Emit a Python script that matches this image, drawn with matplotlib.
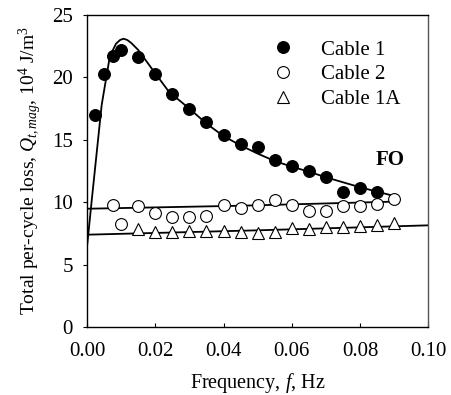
import matplotlib
matplotlib.use("Agg")
import matplotlib.pyplot as plt

plt.rcParams['font.family'] = ['Liberation Serif', 'DejaVu Serif']
plt.rcParams['mathtext.fontset'] = 'custom'
plt.rcParams['mathtext.rm'] = 'Liberation Serif'
plt.rcParams['mathtext.it'] = 'Liberation Serif:italic'

# measured data
freq_c1 = [0.0023, 0.005, 0.0075, 0.010, 0.015, 0.020, 0.025, 0.030, 0.035, 0.040,
           0.045, 0.050, 0.055, 0.060, 0.065, 0.070, 0.075, 0.080, 0.085]
loss_c1 = [17.0, 20.3, 21.7, 22.2, 21.6, 20.3, 18.7, 17.5, 16.4, 15.4,
           14.7, 14.45, 13.4, 12.9, 12.5, 12.0, 10.8, 11.15, 10.8]

freq_c2 = [0.0075, 0.010, 0.015, 0.020, 0.025, 0.030, 0.035, 0.040, 0.045, 0.050,
           0.055, 0.060, 0.065, 0.070, 0.075, 0.080, 0.085, 0.090]
loss_c2 = [9.78, 8.25, 9.7, 9.1, 8.85, 8.8, 8.9, 9.78, 9.5, 9.78,
           10.2, 9.78, 9.28, 9.3, 9.67, 9.67, 9.88, 10.22]

freq_c1a = [0.015, 0.020, 0.025, 0.030, 0.035, 0.040, 0.045, 0.050, 0.055, 0.060,
            0.065, 0.070, 0.075, 0.080, 0.085, 0.090]
loss_c1a = [7.83, 7.64, 7.6, 7.7, 7.7, 7.7, 7.64, 7.5, 7.6, 7.9,
            7.83, 8.04, 8.04, 8.1, 8.2, 8.36]

# model curves
fit_f1 = [0.0001, 0.0014, 0.0043, 0.0067, 0.0085, 0.0097, 0.0107, 0.0118, 0.013, 0.015,
          0.019, 0.024, 0.030, 0.035, 0.040, 0.045, 0.050, 0.055, 0.060, 0.065,
          0.070, 0.075, 0.080, 0.085, 0.090]
fit_q1 = [6.7, 10.2, 17.8, 21.7, 22.7, 23.0, 23.1, 23.0, 22.75, 22.2,
          20.7, 18.85, 17.5, 16.3, 15.3, 14.55, 13.9, 13.3, 12.85, 12.45,
          12.0, 11.6, 11.2, 10.85, 10.5]
fit_f2 = [0.0, 0.045, 0.090]
fit_q2 = [9.48, 9.72, 10.05]
fit_f1a = [0.0, 0.05, 0.10]
fit_q1a = [7.4, 7.75, 8.15]

fig = plt.figure(figsize=(4.52, 3.95), dpi=100)
ax = fig.add_axes([0.1925, 0.172, 0.755, 0.79])

ax.plot(fit_f1, fit_q1, color='black', lw=1.3)
ax.plot(fit_f2, fit_q2, color='black', lw=1.3)
ax.plot(fit_f1a, fit_q1a, color='black', lw=1.3)

ax.plot(freq_c1, loss_c1, 'o', ms=8.5, mfc='black', mec='black', mew=0.8,
        label='Cable 1')
ax.plot(freq_c2, loss_c2, 'o', ms=8.5, mfc='white', mec='black', mew=0.8,
        label='Cable 2')
ax.plot(freq_c1a, loss_c1a, '^', ms=9, mfc='white', mec='black', mew=0.8,
        label='Cable 1A')

ax.text(0.0889, 13.4, 'FO', fontsize=15, fontweight='bold', ha='center', va='center')

ax.set_xlim(0, 0.1)
ax.set_ylim(0, 25)
ax.set_xticks([0.0, 0.02, 0.04, 0.06, 0.08, 0.10])
ax.set_xticklabels(['0.00', '0.02', '0.04', '0.06', '0.08', '0.10'])
ax.set_yticks([0, 5, 10, 15, 20, 25])
ax.tick_params(axis='x', direction='in', length=3, pad=11, labelsize=15)
ax.tick_params(axis='y', direction='out', length=3, pad=7, labelsize=15)

ax.set_xlabel('Frequency, $f$, Hz', fontsize=14.5, labelpad=7)
ax.set_ylabel('Total per-cycle loss, $Q_{t,mag}$, 10$^4$ J/m$^3$', fontsize=14, labelpad=6)

for s in ax.spines.values():
    s.set_linewidth(1.0)
ax.spines['right'].set_color('#555555')

ax.legend(loc='upper right', bbox_to_anchor=(0.955, 0.96), frameon=False, fontsize=15,
          handletextpad=1.2, labelspacing=0.25, handlelength=1.2, borderaxespad=0.2)

fig.savefig('out.png', dpi=100)
